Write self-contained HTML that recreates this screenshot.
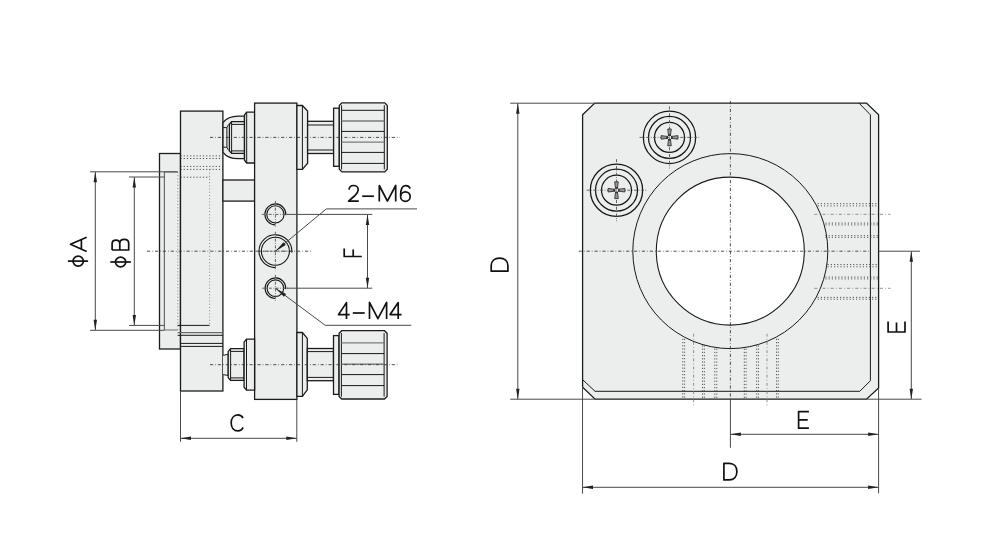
<!DOCTYPE html>
<html><head><meta charset="utf-8"><style>
html,body{margin:0;padding:0;background:#fff;}
body{width:1003px;height:544px;overflow:hidden;font-family:"Liberation Sans",sans-serif;}
svg{display:block;}
.o{fill:#eceeed;stroke:#1c1c1c;stroke-width:1.3;stroke-linejoin:miter;}
.w{fill:#fff;stroke:#1c1c1c;stroke-width:1.1;}
.l{fill:none;stroke:#1c1c1c;stroke-width:1.3;}
.t{fill:none;stroke:#181818;stroke-width:1.0;}
.g{fill:none;stroke:#6a6a6a;stroke-width:1.2;}
.f{fill:#eceeed;stroke:none;}
.g3{fill:none;stroke:#888;stroke-width:0.8;}
.r{fill:none;stroke:#151515;stroke-width:1.25;}
.h{fill:none;stroke:#151515;stroke-width:1.1;}
.g2{fill:none;stroke:#7a7a7a;stroke-width:1.3;}
.d{fill:none;stroke:#4a4a4a;stroke-width:1;}
.ar{fill:#222;stroke:none;}
.dot{fill:none;stroke:#333;stroke-width:0.85;stroke-dasharray:1.2 2;}
.dot2{fill:none;stroke:#444;stroke-width:0.85;stroke-dasharray:1.2 2;}
.dotv{fill:none;stroke:#666;stroke-width:0.75;stroke-dasharray:1 2.2;}
.cl3{fill:none;stroke:#777;stroke-width:0.8;stroke-dasharray:3 2.2 0.8 2.2;}
.cl{fill:none;stroke:#333;stroke-width:0.85;stroke-dasharray:3.2 2 0.7 2;}
.cl2{fill:none;stroke:#555;stroke-width:0.9;stroke-dasharray:3 1.5 0.8 1.5;}
.px{fill:none;stroke:#222;stroke-width:1;}
.pxf{fill:#999;stroke:#222;stroke-width:0.8;}
.tx{fill:none;stroke:#111;stroke-width:1.7;stroke-linejoin:round;stroke-linecap:butt;}
</style></head><body>
<svg width="1003" height="544" viewBox="0 0 1003 544">
<rect class="o" x="159.50" y="153.50" width="21.00" height="195.50"/>
<path class="g" d="M177.6,172 H164.4 V330 H177.6"/>
<rect class="o" x="180.50" y="111.10" width="42.40" height="279.90"/>
<line class="dotv" x1="177.80" y1="172.00" x2="177.80" y2="330.00"/>
<line class="dotv" x1="209.60" y1="169.40" x2="209.60" y2="325.40"/>
<line class="dot" x1="180.50" y1="155.90" x2="222.90" y2="155.90"/>
<line class="dot" x1="180.50" y1="158.50" x2="222.90" y2="158.50"/>
<line class="dot" x1="180.50" y1="166.40" x2="222.90" y2="166.40"/>
<line class="dot" x1="180.50" y1="169.40" x2="222.90" y2="169.40"/>
<line class="dot" x1="180.50" y1="177.20" x2="209.60" y2="177.20"/>
<line class="t" x1="177.60" y1="325.40" x2="209.60" y2="325.40"/>
<line class="g" x1="177.60" y1="332.60" x2="222.90" y2="332.60"/>
<line class="t" x1="177.60" y1="335.30" x2="222.90" y2="335.30"/>
<line class="t" x1="180.50" y1="343.40" x2="222.90" y2="343.40"/>
<line class="t" x1="180.50" y1="346.40" x2="222.90" y2="346.40"/>
<rect class="o" x="222.90" y="180.00" width="31.70" height="21.10"/>
<path class="o" d="M223,122.5 C226,118.5 231,116.1 238.3,116.1 H244.5 V158.7 H238.3 C231,158.7 226,156.3 223,152.3 Z"/>
<path class="t" d="M223.2,127.6 H226.9 V147.2 H223.2"/>
<path class="t" d="M226.9,127.6 Q227.6,125.4 229.4,124.0 M226.9,147.2 Q227.6,149.4 229.4,150.8"/>
<polygon class="o" points="229.40,124.20 231.60,121.70 244.50,121.70 244.50,153.40 231.60,153.40 229.40,151.00"/>
<line class="t" x1="231.60" y1="121.70" x2="231.60" y2="153.40"/>
<line class="t" x1="231.60" y1="124.40" x2="244.50" y2="124.40"/>
<line class="t" x1="231.60" y1="150.90" x2="244.50" y2="150.90"/>
<polygon class="o" points="244.50,115.00 246.70,112.20 254.60,112.20 254.60,163.00 246.70,163.00 244.50,160.20"/>
<line class="t" x1="246.70" y1="112.20" x2="246.70" y2="163.00"/>
<rect class="o" x="254.60" y="103.10" width="42.30" height="296.30"/>
<polygon class="o" points="296.90,105.50 302.40,105.50 307.60,111.10 307.60,163.20 302.40,169.40 296.90,169.40"/>
<line class="t" x1="302.40" y1="105.50" x2="302.40" y2="169.40"/>
<rect class="o" x="307.60" y="121.30" width="26.00" height="32.20"/>
<line class="t" x1="307.60" y1="125.00" x2="333.60" y2="125.00"/>
<line class="t" x1="307.60" y1="150.00" x2="333.60" y2="150.00"/>
<rect class="o" x="333.60" y="108.20" width="5.70" height="58.10"/>
<polygon class="o" points="339.30,105.50 341.90,102.90 384.70,102.90 387.30,105.50 387.30,169.30 384.70,171.90 341.90,171.90 339.30,169.30"/>
<line class="t" x1="341.60" y1="105.24" x2="341.60" y2="169.56"/>
<line class="t" x1="384.30" y1="105.24" x2="384.30" y2="169.56"/>
<line class="t" x1="341.60" y1="110.30" x2="384.30" y2="110.30"/>
<line class="g2" x1="341.60" y1="121.00" x2="384.30" y2="121.00"/>
<line class="t" x1="341.60" y1="131.40" x2="384.30" y2="131.40"/>
<line class="g2" x1="341.60" y1="142.10" x2="384.30" y2="142.10"/>
<line class="t" x1="341.60" y1="152.40" x2="384.30" y2="152.40"/>
<line class="t" x1="341.60" y1="163.40" x2="384.30" y2="163.40"/>
<polygon class="f" points="223.00,355.40 228.20,354.20 228.20,375.50 223.00,374.60"/>
<path class="t" d="M223.2,355.4 L228.2,354.2 V375.5 L223.2,374.6"/>
<polygon class="o" points="228.20,351.40 230.60,348.70 244.10,348.70 244.10,380.40 230.60,380.40 228.20,377.80"/>
<line class="t" x1="230.60" y1="348.70" x2="230.60" y2="380.40"/>
<line class="t" x1="230.60" y1="351.40" x2="244.10" y2="351.40"/>
<line class="t" x1="230.60" y1="377.90" x2="244.10" y2="377.90"/>
<polygon class="o" points="244.10,342.20 246.50,339.10 254.60,339.10 254.60,390.10 246.50,390.10 244.10,387.20"/>
<line class="t" x1="246.50" y1="339.10" x2="246.50" y2="390.10"/>
<polygon class="o" points="296.90,332.50 302.40,332.50 307.30,338.40 307.30,389.90 302.40,396.30 296.90,396.30"/>
<line class="t" x1="302.40" y1="332.50" x2="302.40" y2="396.30"/>
<rect class="o" x="307.30" y="348.50" width="26.20" height="32.20"/>
<line class="t" x1="307.30" y1="351.60" x2="333.50" y2="351.60"/>
<line class="t" x1="307.30" y1="377.40" x2="333.50" y2="377.40"/>
<rect class="o" x="333.50" y="335.60" width="5.50" height="58.80"/>
<polygon class="o" points="339.10,333.30 341.70,330.70 384.50,330.70 387.10,333.30 387.10,396.40 384.50,399.00 341.70,399.00 339.10,396.40"/>
<line class="t" x1="341.40" y1="333.04" x2="341.40" y2="396.66"/>
<line class="t" x1="384.10" y1="333.04" x2="384.10" y2="396.66"/>
<line class="g2" x1="341.40" y1="342.80" x2="384.10" y2="342.80"/>
<line class="t" x1="341.40" y1="353.60" x2="384.10" y2="353.60"/>
<line class="g" x1="341.40" y1="364.20" x2="384.10" y2="364.20"/>
<line class="t" x1="341.40" y1="374.60" x2="384.10" y2="374.60"/>
<line class="t" x1="341.40" y1="385.60" x2="384.10" y2="385.60"/>
<line class="cl" x1="147.00" y1="251.20" x2="311.00" y2="251.20"/>
<line class="cl" x1="210.00" y1="137.40" x2="400.00" y2="137.40"/>
<line class="cl" x1="210.00" y1="364.70" x2="397.40" y2="364.70"/>
<circle class="h" cx="275.40" cy="214.40" r="8.60"/>
<path class="h" d="M285.86,215.32 A10.50,10.50 0 1 0 275.40,224.90"/>
<line class="cl2" x1="261.90" y1="214.40" x2="288.90" y2="214.40"/>
<line class="cl2" x1="275.40" y1="200.90" x2="275.40" y2="227.90"/>
<circle class="h" cx="275.40" cy="251.20" r="14.00"/>
<path class="h" d="M291.74,252.63 A16.40,16.40 0 1 0 275.40,267.60"/>
<line class="cl2" x1="256.00" y1="251.20" x2="294.80" y2="251.20"/>
<line class="cl2" x1="275.40" y1="231.80" x2="275.40" y2="270.60"/>
<circle class="h" cx="275.40" cy="288.20" r="8.30"/>
<path class="h" d="M285.66,289.10 A10.30,10.30 0 1 0 275.40,298.50"/>
<line class="cl2" x1="262.10" y1="288.20" x2="288.70" y2="288.20"/>
<line class="cl2" x1="275.40" y1="274.90" x2="275.40" y2="301.50"/>
<line class="d" x1="90.00" y1="171.80" x2="177.60" y2="171.80"/>
<line class="d" x1="90.00" y1="330.30" x2="164.40" y2="330.30"/>
<line class="d" x1="95.30" y1="171.80" x2="95.30" y2="330.30"/>
<polygon class="ar" points="95.30,171.80 97.00,182.30 93.60,182.30"/>
<polygon class="ar" points="95.30,330.30 93.60,319.80 97.00,319.80"/>
<line class="d" x1="129.00" y1="177.00" x2="164.40" y2="177.00"/>
<line class="d" x1="129.00" y1="325.40" x2="164.40" y2="325.40"/>
<line class="d" x1="134.30" y1="177.00" x2="134.30" y2="325.40"/>
<polygon class="ar" points="134.30,177.00 136.00,187.50 132.60,187.50"/>
<polygon class="ar" points="134.30,325.40 132.60,314.90 136.00,314.90"/>
<line class="d" x1="180.50" y1="391.00" x2="180.50" y2="441.80"/>
<line class="d" x1="296.80" y1="399.40" x2="296.80" y2="441.80"/>
<line class="d" x1="180.50" y1="438.30" x2="296.80" y2="438.30"/>
<polygon class="ar" points="180.50,438.30 191.00,436.60 191.00,440.00"/>
<polygon class="ar" points="296.80,438.30 286.30,440.00 286.30,436.60"/>
<line class="d" x1="286.90" y1="214.40" x2="372.30" y2="214.40"/>
<line class="d" x1="286.50" y1="288.20" x2="372.30" y2="288.20"/>
<line class="d" x1="367.50" y1="214.40" x2="367.50" y2="288.20"/>
<polygon class="ar" points="367.50,214.40 369.20,224.90 365.80,224.90"/>
<polygon class="ar" points="367.50,288.20 365.80,277.70 369.20,277.70"/>
<path class="d" d="M275.4,251.2 L326.3,208.9 H417"/>
<polygon class="ar" points="275.40,251.20 283.48,242.15 285.78,244.91"/>
<path class="d" d="M275.4,288.2 L325.2,325.3 H411.3"/>
<polygon class="ar" points="275.40,288.20 286.10,293.93 283.95,296.81"/>
<polygon class="o" points="582.60,114.80 594.80,103.10 866.50,103.10 878.60,114.80 878.60,387.90 866.50,399.20 595.10,399.20 582.60,387.30"/>
<path class="t" d="M859,103.1 L870.4,114.8 V380.7 L859.8,391.3 H595 L582.6,379.6"/>
<circle class="t" cx="730.30" cy="251.10" r="97.50"/>
<circle class="w" cx="730.30" cy="251.10" r="74.00"/>
<line class="dot" x1="817.60" y1="203.70" x2="878.60" y2="203.70"/>
<line class="dot2" x1="817.60" y1="205.90" x2="878.60" y2="205.90"/>
<line class="dot" x1="825.40" y1="223.10" x2="878.60" y2="223.10"/>
<line class="dot2" x1="825.40" y1="224.90" x2="878.60" y2="224.90"/>
<line class="dot" x1="825.40" y1="235.70" x2="878.60" y2="235.70"/>
<line class="dot2" x1="825.40" y1="237.40" x2="878.60" y2="237.40"/>
<line class="dot" x1="827.60" y1="264.60" x2="878.60" y2="264.60"/>
<line class="dot2" x1="827.60" y1="266.80" x2="878.60" y2="266.80"/>
<line class="dot" x1="825.40" y1="277.10" x2="878.60" y2="277.10"/>
<line class="dot2" x1="825.40" y1="278.90" x2="878.60" y2="278.90"/>
<line class="dot" x1="817.60" y1="297.40" x2="878.60" y2="297.40"/>
<line class="dot2" x1="817.60" y1="299.20" x2="878.60" y2="299.20"/>
<line class="cl3" x1="814.30" y1="214.30" x2="890.40" y2="214.30"/>
<line class="cl3" x1="814.30" y1="288.30" x2="890.40" y2="288.30"/>
<line class="dot" x1="682.80" y1="338.80" x2="682.80" y2="399.20"/>
<line class="dot2" x1="684.60" y1="338.80" x2="684.60" y2="399.20"/>
<line class="dot" x1="702.60" y1="345.40" x2="702.60" y2="399.20"/>
<line class="dot2" x1="704.40" y1="345.40" x2="704.40" y2="399.20"/>
<line class="dot" x1="714.80" y1="348.70" x2="714.80" y2="399.20"/>
<line class="dot2" x1="716.80" y1="348.70" x2="716.80" y2="399.20"/>
<line class="dot" x1="744.30" y1="348.70" x2="744.30" y2="399.20"/>
<line class="dot2" x1="746.10" y1="348.70" x2="746.10" y2="399.20"/>
<line class="dot" x1="756.70" y1="345.40" x2="756.70" y2="399.20"/>
<line class="dot2" x1="758.50" y1="345.40" x2="758.50" y2="399.20"/>
<line class="dot" x1="776.60" y1="338.80" x2="776.60" y2="399.20"/>
<line class="dot2" x1="778.30" y1="338.80" x2="778.30" y2="399.20"/>
<line class="cl3" x1="693.60" y1="333.70" x2="693.60" y2="405.60"/>
<line class="cl3" x1="767.00" y1="333.70" x2="767.00" y2="405.60"/>
<line class="cl" x1="578.70" y1="251.20" x2="870.40" y2="251.20"/>
<line class="cl" x1="730.40" y1="101.00" x2="730.40" y2="399.20"/>
<circle class="r" cx="669.50" cy="137.40" r="26.15"/>
<circle class="r" cx="669.50" cy="137.40" r="21.00"/>
<circle class="r" cx="669.50" cy="137.40" r="15.00"/>
<line class="cl2" x1="639.50" y1="137.40" x2="699.50" y2="137.40"/>
<line class="cl2" x1="669.50" y1="106.40" x2="669.50" y2="168.40"/>
<polygon class="pxf" points="671.70,138.40 677.90,139.20 677.90,135.60 671.70,136.40"/>
<polygon class="pxf" points="668.50,139.60 667.70,145.80 671.30,145.80 670.50,139.60"/>
<polygon class="pxf" points="667.30,136.40 661.10,135.60 661.10,139.20 667.30,138.40"/>
<polygon class="pxf" points="670.50,135.20 671.30,129.00 667.70,129.00 668.50,135.20"/>
<polygon class="px" points="669.50,134.40 672.50,137.40 669.50,140.40 666.50,137.40"/>
<circle class="r" cx="616.50" cy="190.20" r="26.15"/>
<circle class="r" cx="616.50" cy="190.20" r="21.00"/>
<circle class="r" cx="616.50" cy="190.20" r="15.00"/>
<line class="cl2" x1="586.50" y1="190.20" x2="646.50" y2="190.20"/>
<line class="cl2" x1="616.50" y1="159.20" x2="616.50" y2="221.20"/>
<polygon class="pxf" points="618.70,191.20 624.90,192.00 624.90,188.40 618.70,189.20"/>
<polygon class="pxf" points="615.50,192.40 614.70,198.60 618.30,198.60 617.50,192.40"/>
<polygon class="pxf" points="614.30,189.20 608.10,188.40 608.10,192.00 614.30,191.20"/>
<polygon class="pxf" points="617.50,188.00 618.30,181.80 614.70,181.80 615.50,188.00"/>
<polygon class="px" points="616.50,187.20 619.50,190.20 616.50,193.20 613.50,190.20"/>
<line class="d" x1="510.20" y1="103.20" x2="594.80" y2="103.20"/>
<line class="d" x1="510.20" y1="399.20" x2="595.10" y2="399.20"/>
<line class="d" x1="517.80" y1="103.20" x2="517.80" y2="399.20"/>
<polygon class="ar" points="517.80,103.20 519.50,113.70 516.10,113.70"/>
<polygon class="ar" points="517.80,399.20 516.10,388.70 519.50,388.70"/>
<line class="d" x1="582.55" y1="387.30" x2="582.55" y2="493.70"/>
<line class="d" x1="878.60" y1="387.90" x2="878.60" y2="493.40"/>
<line class="d" x1="582.50" y1="487.30" x2="878.60" y2="487.30"/>
<polygon class="ar" points="582.50,487.30 593.00,485.60 593.00,489.00"/>
<polygon class="ar" points="878.60,487.30 868.10,489.00 868.10,485.60"/>
<line class="d" x1="730.40" y1="399.20" x2="730.40" y2="447.80"/>
<line class="d" x1="730.40" y1="434.30" x2="878.60" y2="434.30"/>
<polygon class="ar" points="730.40,434.30 740.90,432.60 740.90,436.00"/>
<polygon class="ar" points="878.60,434.30 868.10,436.00 868.10,432.60"/>
<line class="d" x1="878.60" y1="251.20" x2="920.00" y2="251.20"/>
<line class="d" x1="866.50" y1="399.20" x2="921.50" y2="399.20"/>
<line class="d" x1="911.30" y1="251.20" x2="911.30" y2="399.20"/>
<polygon class="ar" points="911.30,251.20 913.00,261.70 909.60,261.70"/>
<polygon class="ar" points="911.30,399.20 909.60,388.70 913.00,388.70"/>
<path class="tx" d="M349,189.6 C349.3,187 351,185.5 353.5,185.5 C356.2,185.5 358.2,187.3 358.2,189.8 C358.2,192 357,193.5 355,195.5 L348.6,201.2 H358.8"/>
<path class="tx" d="M362.2,196.2 H373.9"/>
<path class="tx" d="M379.3,201.4 V185.5 L387.4,201.1 L395.7,185.5 V201.4"/>
<path class="tx" d="M410.2,188.6 C409.4,186.7 407.8,185.7 405.6,185.7 C402.3,185.7 400.6,189 400.6,195.5"/>
<path class="tx" d="M400.6,196.6 A4.8,4.8 0 1 0 410.2,196.6 A4.8,4.8 0 1 0 400.6,196.6"/>
<path class="tx" d="M349.7,314.6 H338.5 L346.5,302.6 V318.9"/>
<path class="tx" d="M352.8,313 H364.7"/>
<path class="tx" d="M369.5,318.9 V302.4 L377.9,318.7 L386.6,302.4 V318.9"/>
<path class="tx" d="M401.6,314.6 H390.1 L398.2,302.6 V318.9"/>
<path class="tx" d="M243,418 C242,416 240.3,414.9 237.9,414.9 C233.8,414.9 231.2,418.3 231.2,422.9 C231.2,427.5 233.8,430.9 237.9,430.9 C240.5,430.9 242.2,429.5 243.1,427.4"/>
<path class="tx" d="M808.9,411.7 H798.6 V428.2 H808.9 M798.6,419.8 H807.7"/>
<path class="tx" d="M723.9,463.3 V479.9 H729.3 C734,479.9 736.9,476.5 736.9,471.6 C736.9,466.7 734,463.3 729.3,463.3 Z"/>
<path class="tx" d="M491.2,271.2 H507.9 V265.8 C507.9,261.1 504.5,258.2 499.6,258.2 C494.7,258.2 491.2,261.1 491.2,265.8 Z"/>
<path class="tx" d="M888.1,321.6 V332 H905 V321.6 M896.5,332 V322.6"/>
<path class="tx" d="M344.2,248.4 V256.5 H361.8 M353.2,256.5 V249.6"/>
<path class="tx" d="M86.7,237.2 L70.5,244.3 L86.7,251.5 M81.4,239.6 V249.2"/>
<path class="tx" d="M67.9,261.1 H88.1"/>
<path class="tx" d="M73,261.1 A5.2,5.0 0 1 0 83.4,261.1 A5.2,5.0 0 1 0 73,261.1"/>
<path class="tx" d="M112.1,250 V243.5 C112.1,241.2 113.6,240.1 116,240.1 C118.4,240.1 119.8,241.4 119.8,243.8 V250 M119.8,243.5 C119.8,240.9 121.6,239.4 124.3,239.4 C127,239.4 128.7,240.9 128.7,243.5 V250 H112.1"/>
<path class="tx" d="M110.3,262 H130.9"/>
<path class="tx" d="M115.45,262 A5.15,4.8 0 1 0 125.75,262 A5.15,4.8 0 1 0 115.45,262"/>
</svg>
</body></html>
